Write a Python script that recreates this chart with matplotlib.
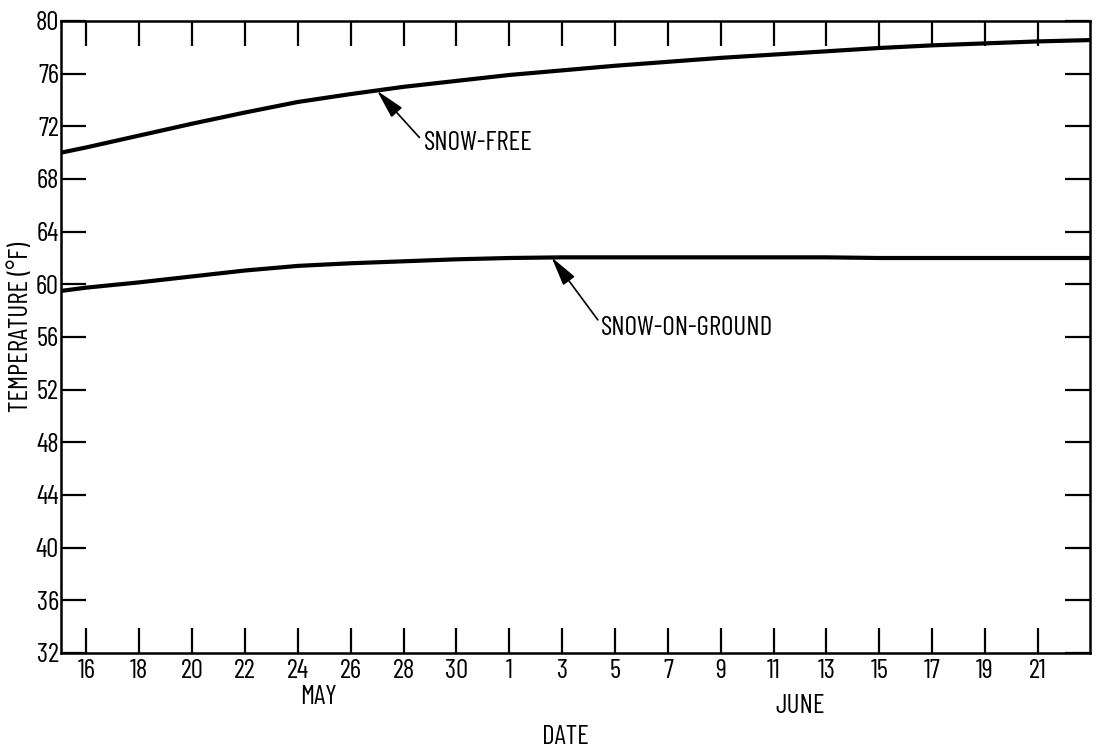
import matplotlib
matplotlib.use("Agg")
import matplotlib.pyplot as plt

# Day numbers: May 16 -> 16, May 31 -> 31, June 1 -> 32, June 21 -> 52
days = [15.04, 16, 18, 20, 22, 24, 26, 28, 30, 32, 34, 36, 38, 40, 42, 44, 46, 48, 50, 52, 53.97]
snow_free = [70.0, 70.4, 71.3, 72.2, 73.05, 73.85, 74.45, 75.0, 75.45, 75.9, 76.25,
             76.6, 76.9, 77.2, 77.45, 77.7, 77.95, 78.15, 78.3, 78.45, 78.55]
snow_on_ground = [59.5, 59.75, 60.15, 60.6, 61.05, 61.4, 61.6, 61.75, 61.9, 62.0, 62.05,
                  62.05, 62.05, 62.05, 62.05, 62.05, 62.0, 62.0, 62.0, 62.0, 62.0]

x_ticks = list(range(16, 53, 2))
x_labels = ["16", "18", "20", "22", "24", "26", "28", "30",
            "1", "3", "5", "7", "9", "11", "13", "15", "17", "19", "21"]
y_ticks = list(range(32, 81, 4))

plt.rcParams["font.family"] = ["Barlow Condensed", "DejaVu Sans"]
FS = 19.5

W, H = 1096, 751
fig = plt.figure(figsize=(W / 100, H / 100), dpi=100)
L, R, T, B = 61, 1090, 21, 653
ax = fig.add_axes([L / W, 1 - B / H, (R - L) / W, (B - T) / H])

ax.plot(days, snow_free, color="black", lw=3.0, solid_capstyle="butt")
ax.plot(days, snow_on_ground, color="black", lw=3.0, solid_capstyle="butt")

ax.set_xlim(15.04, 53.97)
ax.set_ylim(32, 80)

ax.set_xticks(x_ticks)
ax.set_xticklabels(x_labels)
ax.set_yticks(y_ticks)
ax.set_yticklabels([str(v) for v in y_ticks])

ax.tick_params(axis="both", which="major", direction="in", length=18, width=1.6,
               top=True, right=True, labelsize=FS, colors="black")
ax.tick_params(axis="x", pad=4)
ax.tick_params(axis="y", pad=1.5)
for s in ax.spines.values():
    s.set_linewidth(1.8)

ax.set_ylabel("TEMPERATURE (°F)", fontsize=FS, va="center", ha="center")
ax.yaxis.set_label_coords((21 - L) / (R - L), (B - 327) / (B - T))

# Month names and axis title
fig.text(319 / W, 1 - 697 / H, "MAY", ha="center", va="center", fontsize=FS)
fig.text(800 / W, 1 - 706 / H, "JUNE", ha="center", va="center", fontsize=FS)
fig.text(565 / W, 1 - 737 / H, "DATE", ha="center", va="center", fontsize=FS)

# Curve annotations
arrow = dict(arrowstyle="-|>,head_length=0.9,head_width=0.22", lw=1.2,
             color="black", shrinkA=0, shrinkB=0, mutation_scale=20)
ax.annotate("", xy=(27.0, 74.7), xytext=(28.6, 71.15), arrowprops=arrow)
ax.text(28.75, 70.7, "SNOW-FREE", ha="left", va="center", fontsize=FS)
ax.annotate("", xy=(33.6, 62.05), xytext=(35.35, 57.3), arrowprops=arrow)
ax.text(35.45, 56.7, "SNOW-ON-GROUND", ha="left", va="center", fontsize=FS)

fig.savefig("out.png", dpi=100)
